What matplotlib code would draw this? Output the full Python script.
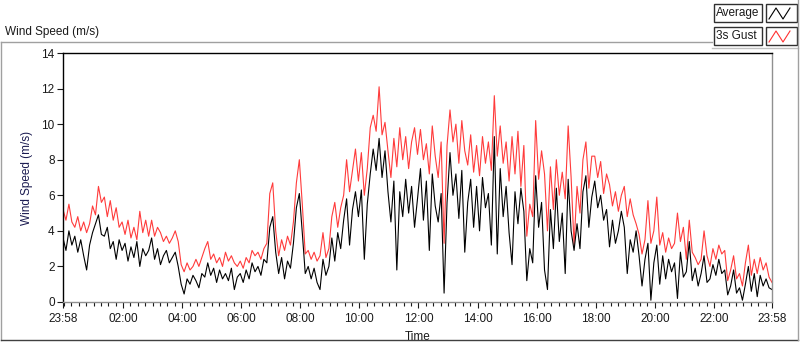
import numpy as np
import matplotlib
matplotlib.use("Agg")
import matplotlib.pyplot as plt
from matplotlib.patches import Rectangle
from matplotlib.lines import Line2D

plt.rcParams['font.family'] = ['Liberation Sans', 'DejaVu Sans']

# samples every 6 minutes, starting 23:58
gust = [
    5.2, 4.6, 5.5, 4.5, 4.2, 4.8, 4.0, 4.5, 3.9, 4.4,
    5.4, 4.9, 6.5, 5.6, 5.9, 4.8, 5.7, 4.6, 5.3, 4.2,
    4.5, 3.8, 4.6, 3.6, 4.2, 3.5, 5.1, 3.9, 4.6, 3.7,
    4.6, 3.7, 4.2, 3.9, 3.4, 3.7, 3.3, 3.6, 4.0, 3.4,
    2.1, 1.7, 2.2, 1.8, 2.0, 2.4, 2.0, 2.5, 3.0, 3.4,
    2.4, 2.7, 2.2, 2.5, 2.0, 2.8, 2.3, 2.6, 2.2, 2.0,
    2.3, 1.9, 2.5, 2.2, 2.9, 2.6, 2.8, 2.4, 3.0, 3.3,
    6.1, 6.7, 4.0, 2.6, 3.5, 2.9, 3.7, 3.2, 4.5, 6.7,
    8.0, 5.5, 2.7, 2.9, 2.4, 2.8, 2.3, 2.6, 3.9, 2.5,
    3.0, 4.8, 5.6, 4.2, 5.3, 6.0, 8.0, 6.2, 7.4, 8.6,
    6.8, 8.4, 6.0, 7.5, 9.8, 10.5, 9.6, 12.1, 9.4, 10.1,
    8.5, 7.0, 9.2, 7.6, 9.8, 8.0, 9.3, 7.5, 9.0, 9.8,
    8.3, 9.7, 8.0, 8.9, 7.2, 9.9, 8.2, 7.0, 9.0, 3.3,
    8.8, 10.8, 9.0, 10.0, 7.8, 10.2, 8.5, 7.7, 9.4, 7.3,
    8.8, 7.1, 9.3, 7.8, 9.0, 7.4, 11.6, 8.2, 9.9, 7.8,
    9.0, 6.8, 9.3, 7.2, 9.6, 6.5, 8.8, 3.7, 5.5, 4.8,
    10.2, 6.9, 8.5, 7.2, 4.0, 7.6, 5.2, 8.0, 6.0, 7.3,
    5.8, 9.9, 7.0, 3.2, 6.5, 5.0, 8.0, 9.0, 6.4, 8.2,
    8.2, 7.0, 7.9, 6.1, 7.2, 6.6, 5.4, 6.2, 5.1, 6.0,
    6.5, 4.8, 5.8, 4.9, 4.4, 3.8, 2.7, 3.5, 5.7, 3.3,
    4.0, 5.9, 3.2, 3.9, 2.8, 3.6, 3.0, 3.3, 5.0, 3.4,
    4.2, 2.4, 4.6, 2.8, 2.5, 2.1, 2.4, 4.0, 2.6, 2.0,
    3.0, 2.4, 3.2, 2.7, 2.9, 1.2, 1.8, 2.6, 1.3, 1.6,
    0.9, 2.2, 3.2, 1.5, 2.4, 1.6, 2.5, 1.8, 2.2, 1.4,
    1.1,
]

average = [
    3.6, 2.9, 4.0, 3.2, 3.7, 2.8, 3.5, 2.6, 1.8, 3.2,
    3.9, 4.4, 4.9, 3.8, 3.7, 4.2, 3.0, 3.4, 2.4, 3.5,
    2.9, 3.3, 2.3, 3.1, 2.5, 3.4, 2.0, 3.0, 2.6, 2.9,
    3.6, 2.4, 3.0, 2.1, 2.6, 2.9, 2.2, 2.5, 2.8, 2.0,
    1.0, 0.45, 1.3, 1.0, 1.5, 1.2, 0.8, 1.6, 1.4, 2.2,
    1.5, 1.9, 1.1, 1.8, 1.3, 1.6, 1.2, 1.9, 0.7, 1.4,
    1.6, 1.1, 1.8, 1.3, 2.2, 1.7, 2.0, 1.5, 2.4, 2.2,
    4.2, 4.8, 2.8, 1.6, 2.5, 1.3, 2.3, 1.9, 3.3, 5.3,
    6.1, 3.9, 1.6, 2.0, 1.3, 1.9, 1.1, 0.7, 2.4, 1.5,
    2.0, 3.6, 2.3, 3.9, 3.0, 4.6, 5.8, 3.2, 5.2, 6.2,
    4.8, 6.3, 2.4, 5.5, 7.2, 8.6, 7.4, 9.2, 7.0, 8.5,
    6.2, 4.5, 6.8, 1.8, 6.2, 4.8, 6.9, 5.0, 6.5, 4.2,
    5.8, 7.5, 4.6, 6.8, 2.9, 7.2, 5.4, 4.5, 6.1, 0.5,
    5.6, 8.4, 6.0, 7.2, 4.7, 7.4, 2.8, 5.6, 6.9, 4.2,
    6.5, 4.0, 7.0, 5.3, 6.1, 3.2, 9.3, 2.7, 7.5, 4.8,
    6.5, 3.9, 2.1, 6.2, 4.4, 6.4, 5.1, 1.2, 3.0, 2.2,
    7.1, 4.2, 5.6, 1.8, 0.7, 5.2, 3.0, 6.4, 3.4, 5.0,
    1.6, 6.9, 4.0, 2.9, 4.4, 3.0, 6.2, 7.1, 4.2, 5.9,
    6.8, 5.3, 6.0, 4.6, 5.2, 3.1, 4.6, 3.3, 4.0, 5.1,
    4.2, 1.6, 3.5, 2.8, 4.0, 2.6, 0.9, 2.4, 3.3, 0.1,
    2.2, 3.2, 1.0, 2.6, 1.3, 2.4, 1.7, 2.2, 0.2, 2.8,
    1.4, 1.7, 3.4, 1.2, 1.9, 0.9, 1.6, 2.6, 1.1, 1.3,
    2.1, 1.5, 2.4, 1.6, 1.8, 0.4, 0.9, 1.8, 0.5, 0.8,
    0.1, 1.0, 2.0, 0.6, 1.6, 0.3, 1.5, 0.9, 1.3, 0.8,
    0.7,
]

tick_minutes = [0, 122, 242, 362, 482, 602, 722, 842, 962, 1082, 1202, 1322, 1440]
tick_labels = ["23:58", "02:00", "04:00", "06:00", "08:00", "10:00", "12:00",
               "14:00", "16:00", "18:00", "20:00", "22:00", "23:58"]

minutes = np.arange(len(gust)) * 6

fig = plt.figure(figsize=(8, 3.42), dpi=100)
W, H = 800, 342

def fx(px):
    return px / W

def fy(py):
    return 1 - py / H

# outer panel frame
fig.add_artist(Line2D([fx(1), fx(712)], [fy(42), fy(42)], color="#a0a0a0", lw=1))
fig.add_artist(Line2D([fx(1), fx(1)], [fy(42), fy(340)], color="#a0a0a0", lw=1))
fig.add_artist(Line2D([fx(1), fx(798)], [fy(340), fy(340)], color="#404040", lw=1))
fig.add_artist(Line2D([fx(712), fx(798)], [fy(48), fy(48)], color="#c0c0c0", lw=1))
fig.add_artist(Line2D([fx(798), fx(798)], [fy(0), fy(340)], color="#a0a0a0", lw=1))

fig.text(fx(5), fy(32), "Wind Speed (m/s)", fontsize=8.5, color="#1a1a1a", va="center", ha="left")

# legend boxes
for (name, col, top) in [("Average", "black", 4), ("3s Gust", "#ff3030", 27)]:
    fig.add_artist(Rectangle((fx(714), fy(top + 18)), fx(48), 18 / H,
                             facecolor="white", edgecolor="#303030", lw=1))
    fig.text(fx(716), fy(top + 9), name, fontsize=8.5, color="#1a1a1a", va="center", ha="left")
    fig.add_artist(Rectangle((fx(766), fy(top + 18)), fx(31), 18 / H,
                             facecolor="white", edgecolor="#303030", lw=1))
    zx = [769, 776, 783, 790]
    zy = [top + 15, top + 4, top + 15, top + 4]
    fig.add_artist(Line2D([fx(v) for v in zx], [fy(v) for v in zy], color=col, lw=0.8))

ax = fig.add_axes([fx(63), fy(302), fx(772 - 63), (302 - 53) / H])
ax.plot(minutes, gust, color="#ff3b3b", lw=0.8)
ax.plot(minutes, average, color="black", lw=0.8)

ax.set_xlim(0, 1440)
ax.set_ylim(0, 14)
ax.set_xticks(tick_minutes)
ax.set_xticklabels(tick_labels)
ax.set_xticks(np.arange(2, 1440, 15), minor=True)
ax.set_yticks(range(0, 15, 2))
ax.tick_params(axis="both", labelsize=8.5, colors="#1a1a1a", length=4, width=0.8, pad=2)
ax.tick_params(axis="x", pad=4)
ax.tick_params(axis="x", which="minor", length=3, width=0.8, colors="#1a1a1a")
ax.tick_params(axis="y", which="minor", left=False)

ax.spines["top"].set_color("black")
ax.spines["left"].set_color("black")
ax.spines["bottom"].set_color("#909090")
ax.spines["right"].set_color("#909090")
for s in ax.spines.values():
    s.set_linewidth(1)

ax.set_xlabel("Time", fontsize=8.5, color="#1a1a1a", labelpad=4)
ax.set_ylabel("Wind Speed (m/s)", fontsize=8.5, color="#1a1a50", labelpad=6)

fig.savefig("out.png", dpi=100)
